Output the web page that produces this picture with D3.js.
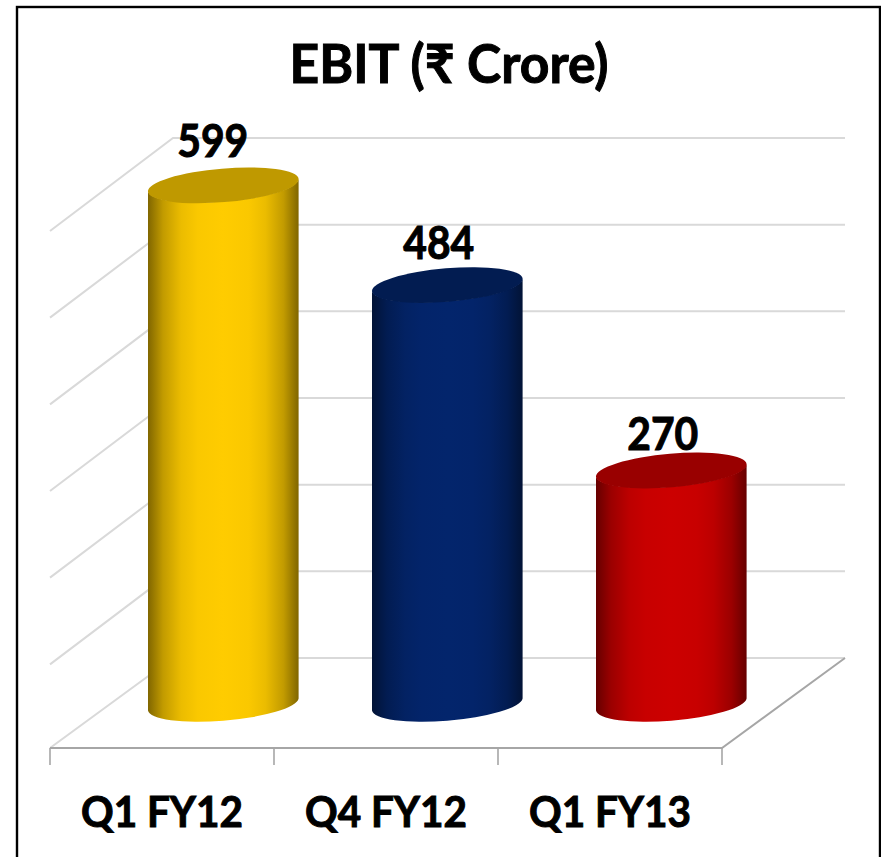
<!DOCTYPE html>
<html><head><meta charset="utf-8">
<style>html,body{margin:0;padding:0;background:#fff}svg{display:block}text{font-family:Lato,"Noto Sans",sans-serif;font-weight:700;fill:#000;stroke:#000;stroke-width:1}</style>
<script src="https://cdnjs.cloudflare.com/ajax/libs/d3/7.8.5/d3.min.js"></script>
</head><body><script>
const categories=["Q1 FY12","Q4 FY12","Q1 FY13"];
const values=[599,484,270];
const baseColors=["#ffcc00","#03256c","#cc0000"];
const titleText="EBIT (₹ Crore)";
const yTicks=[0,100,200,300,400,500,600];

const W=881,H=857;
const x0=50,x1=722,floorY=748,dx=123,dy=90,wallDrop=3;
const svg=d3.select("body").append("svg").attr("width",W).attr("height",H);
const x=d3.scaleBand().domain(categories).range([x0,x1]);
const y=d3.scaleLinear().domain([0,600]).range([floorY,floorY-520]);
const defs=svg.append("defs");

// frame
svg.append("rect").attr("x",17).attr("y",7).attr("width",863).attr("height",H).attr("fill","#fff").attr("stroke","#000").attr("stroke-width",2.4);
// walls
const grid=svg.append("g").attr("fill","none").attr("stroke","#d9d9d9").attr("stroke-width",2);
yTicks.forEach(t=>{
  const front=t>0?y(t)+wallDrop:y(t);
  grid.append("path").attr("d",d3.line()([[x0,front],[x0+dx,y(t)-dy],[x1+dx,y(t)-dy]]));
});
// floor front and right edge
svg.append("path").attr("fill","none").attr("stroke","#a6a6a6").attr("stroke-width",2)
  .attr("d",d3.line()([[x0,floorY],[x1,floorY],[x1+dx,floorY-dy]]));
// category boundary ticks
const bounds=categories.map(c=>x(c)).concat([x1]);
svg.append("g").selectAll("line").data(bounds).join("line")
  .attr("x1",d=>d).attr("x2",d=>d).attr("y1",floorY).attr("y2",floorY+17)
  .attr("stroke","#a6a6a6").attr("stroke-width",1.6);
// category labels via axis
const axis=d3.axisBottom(x).tickSize(0).tickPadding(0);
const ag=svg.append("g").attr("transform",`translate(0,${floorY})`).call(axis);
ag.select(".domain").remove();
ag.selectAll("text").attr("y",79).attr("dy",0).attr("font-size",42)
  .attr("textLength",162).attr("lengthAdjust","spacingAndGlyphs")
  .style("font-family",'Lato,"Noto Sans",sans-serif').style("font-weight",700);

// cylinders
const rx=75.6,ry=16.8,tilt=-4.8,ex=75.3,ey=6;
const shade=(c,k)=>d3.interpolateRgb(c,"#000")(k);
const labelNudgeX=[-10.5,-8.5,-8.5], labelNudgeY=[-28,-26.5,-21];
values.forEach((v,i)=>{
  const cx=x(categories[i])+x.bandwidth()/2+61.3;
  const base=floorY-dy/2+1.5;
  const top=y(v)-dy/2+1.5;
  const col=baseColors[i];
  const id="g"+i;
  const g=defs.append("linearGradient").attr("id",id);
  [[0,.5],[.1,.24],[.22,.08],[.33,.02],[.5,0],[.67,.02],[.78,.08],[.9,.24],[1,.5]].forEach(([o,k])=>{
    g.append("stop").attr("offset",o).attr("stop-color",shade(col,k));
  });
  const body=`M${cx-ex},${top+ey}L${cx-ex},${base+ey}A${rx},${ry} ${tilt} 0 0 ${cx+ex},${base-ey}L${cx+ex},${top-ey}A${rx},${ry} ${tilt} 0 1 ${cx-ex},${top+ey}Z`;
  svg.append("path").attr("d",body).attr("fill",`url(#${id})`);
  svg.append("ellipse").attr("rx",rx).attr("ry",ry).attr("transform",`translate(${cx},${top}) rotate(${tilt})`).attr("fill",shade(col,.25));
  svg.append("text").attr("x",cx+labelNudgeX[i]).attr("y",top+labelNudgeY[i]).attr("text-anchor","middle").attr("font-size",45)
    .attr("textLength",71).attr("lengthAdjust","spacingAndGlyphs").text(v);
});
svg.append("text").attr("x",449).attr("y",83).attr("text-anchor","middle").attr("font-size",54)
  .attr("textLength",319).attr("lengthAdjust","spacingAndGlyphs").text(titleText);
</script></body></html>
